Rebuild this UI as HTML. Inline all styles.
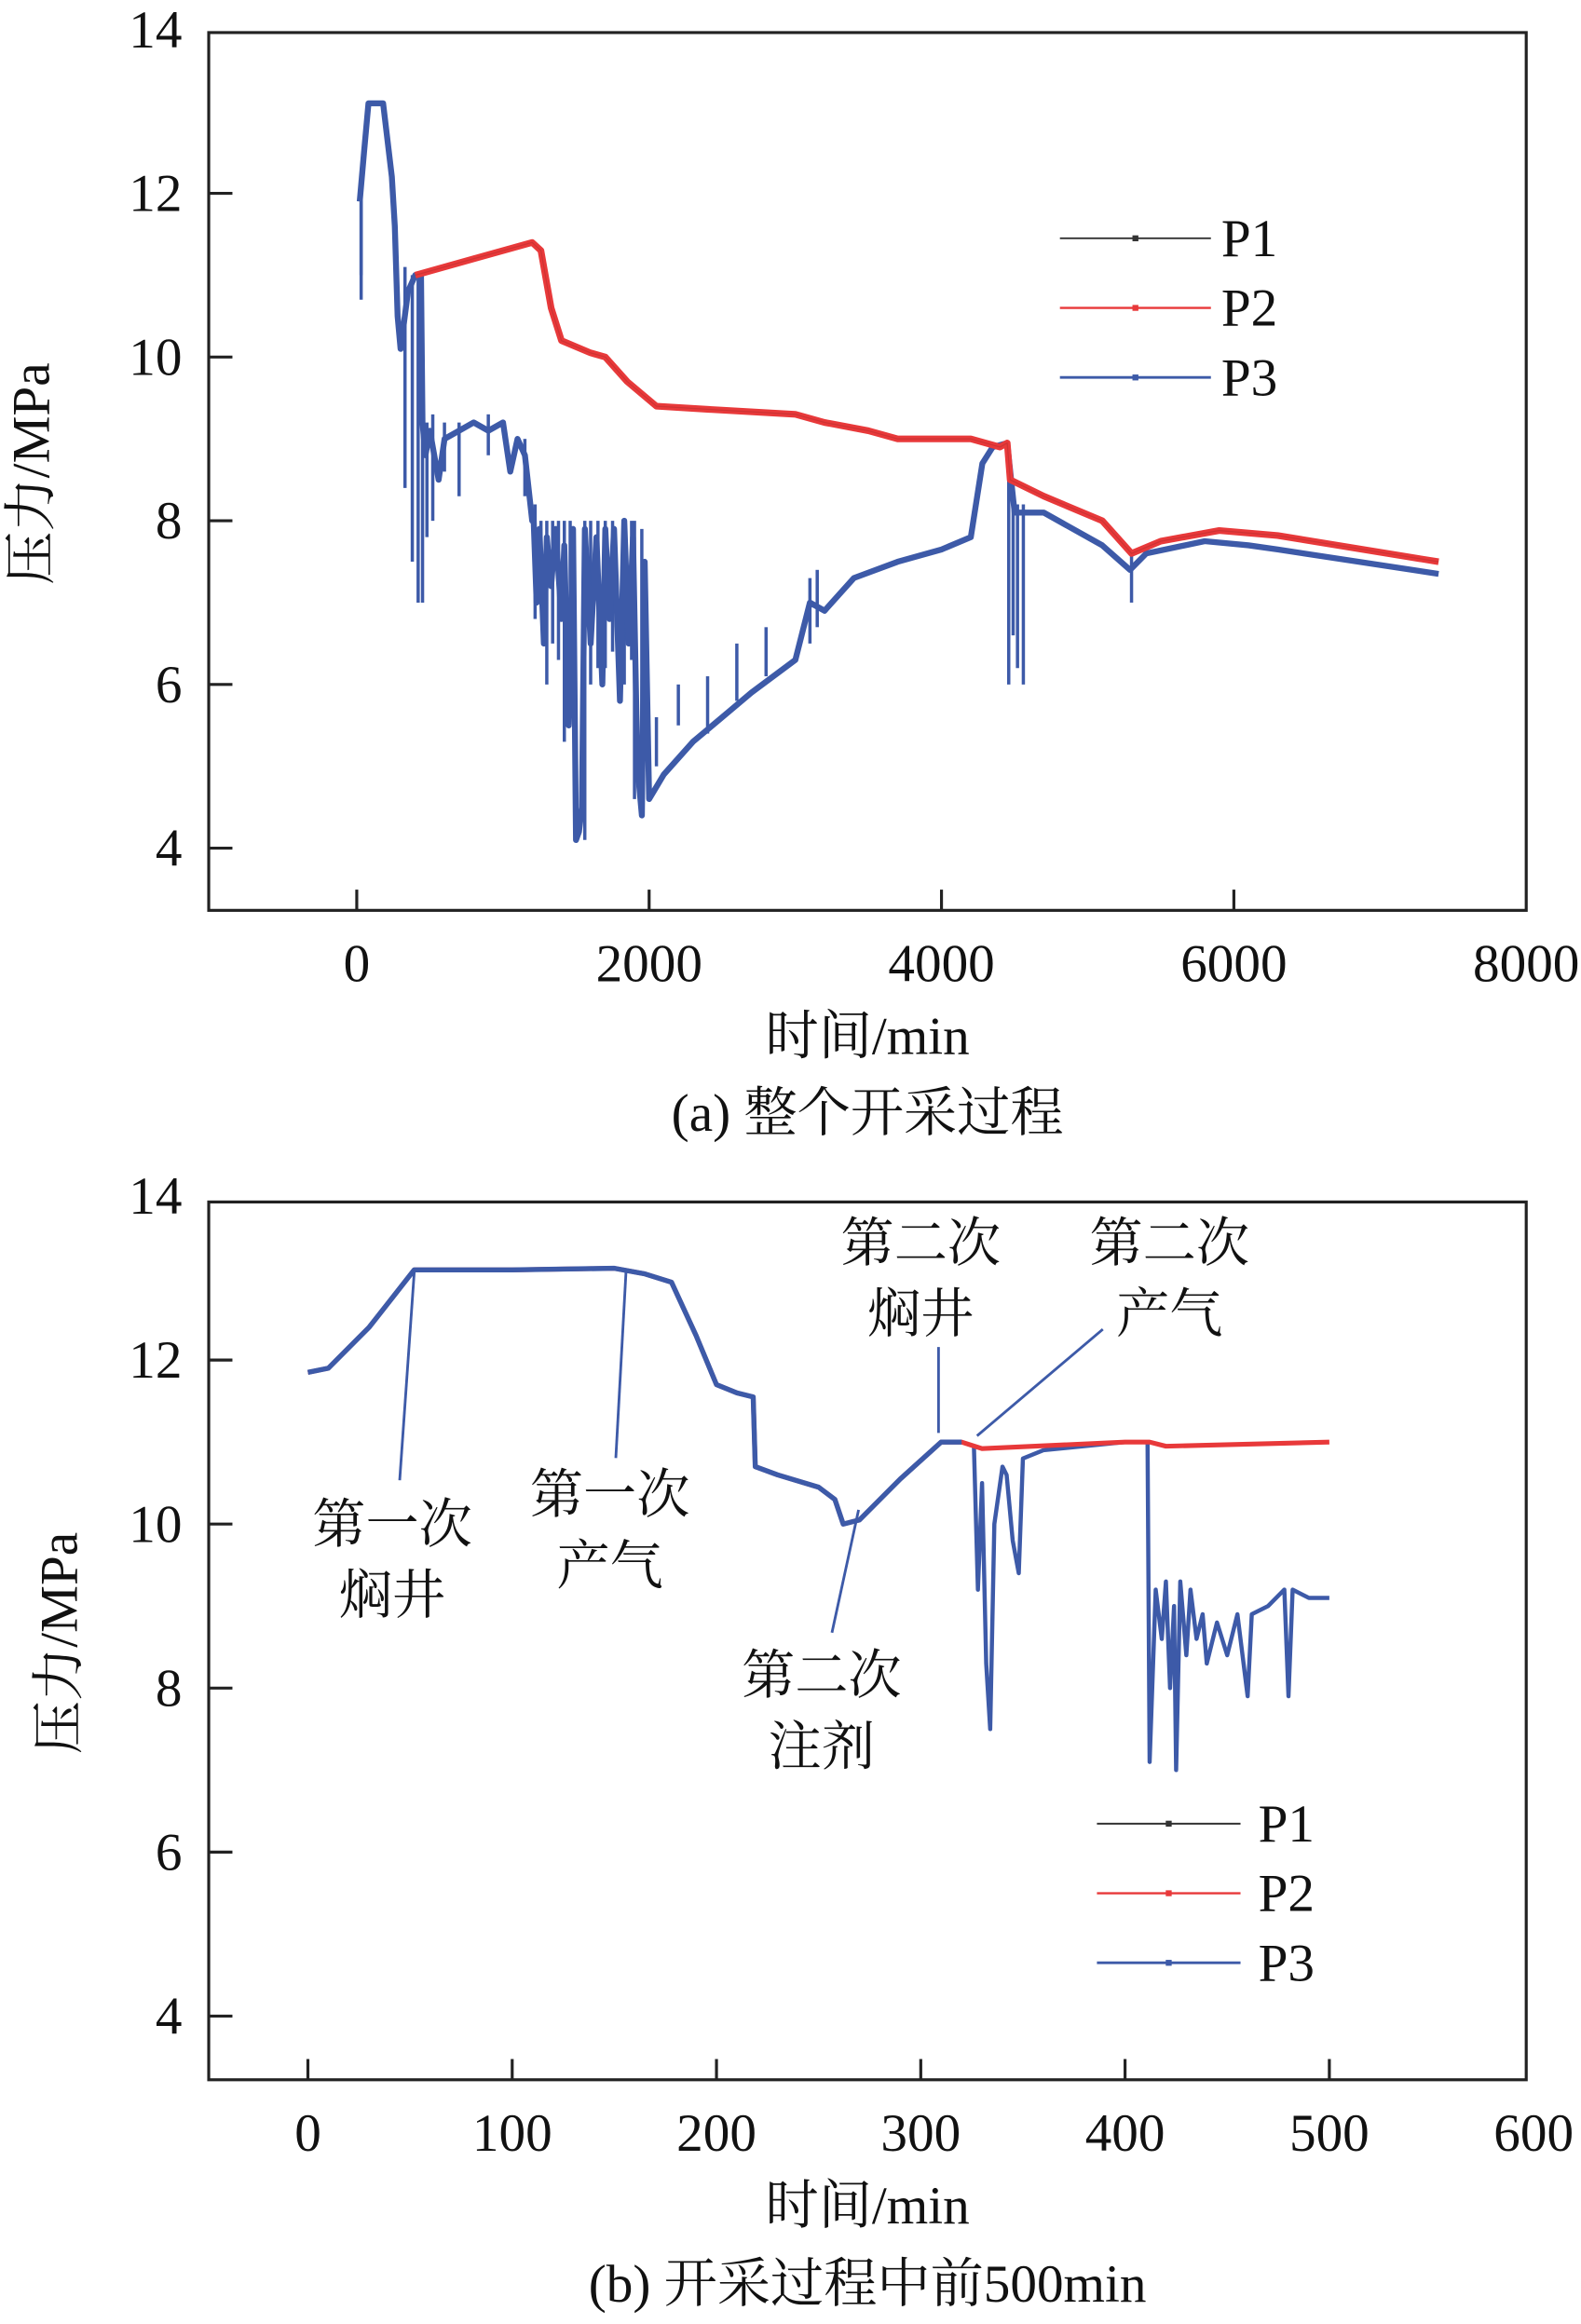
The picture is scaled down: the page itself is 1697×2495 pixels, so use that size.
<!DOCTYPE html>
<html><head><meta charset="utf-8"><style>
html,body{margin:0;padding:0;background:#fff;}
svg{display:block;}
text{font-family:"Liberation Serif","Noto Serif CJK SC","Noto Sans CJK SC",serif;fill:#111;}
</style></head><body>
<svg id="fig" width="1697" height="2495" viewBox="0 0 1068 1570" preserveAspectRatio="none" xmlns="http://www.w3.org/2000/svg">
<g id="ga"></g>
<g id="gb"></g>
</svg>
<script>
// ---------- Chart (a) data ----------
const aRedT = [400,800,1200,1260,1330,1400,1600,1700,1850,2050,2500,3000,3200,3500,3700,4200,4400,4450,4470,4700,5100,5300,5500,5900,6300,7400];
const aRedV = [11.0,11.2,11.4,11.3,10.6,10.2,10.05,10.0,9.7,9.4,9.35,9.3,9.2,9.1,9.0,9.0,8.9,8.95,8.5,8.3,8.0,7.6,7.75,7.88,7.82,7.5];
const aBlueT = [20,50,80,180,240,260,280,300,350,400,440,450,470,500,560,600,700,800,900,1000,1050,1100,1150,1200,1210,1230,1250,1280,1300,1330,1360,1400,1420,1450,1480,1500,1520,1540,1560,1600,1640,1680,1700,1730,1760,1800,1830,1860,1890,1920,1950,1970,2000,2100,2300,2500,2700,3000,3100,3200,3400,3700,4000,4200,4280,4350,4450,4500,4600,4700,5100,5290,5400,5800,6100,6300,7400];
const aBlueV = [11.9,12.5,13.1,13.1,12.2,11.6,10.5,10.1,10.8,11.0,11.0,9.2,8.8,9.1,8.5,9.0,9.1,9.2,9.1,9.2,8.6,9.0,8.8,8.0,8.0,7.0,7.9,6.5,7.8,7.2,7.9,6.8,7.7,5.5,7.9,4.1,4.2,4.5,7.9,6.5,7.8,6.0,7.9,6.8,7.9,5.8,8.0,6.5,7.8,5.0,4.4,7.5,4.6,4.9,5.3,5.6,5.9,6.3,7.0,6.9,7.3,7.5,7.65,7.8,8.7,8.9,8.95,8.1,8.1,8.1,7.7,7.4,7.6,7.75,7.7,7.65,7.35];
const aSpikeT = [30,30,330,380,420,450,480,520,600,700,900,1150,1220,1260,1300,1340,1380,1420,1460,1560,1600,1650,1700,1750,1830,1880,1900,1950,2050,2200,2400,2600,2800,3100,3150,4460,4490,4520,4560,5300];
const aSpikeLo = [10.7,11.0,8.4,7.5,7.0,7.0,7.8,8.0,8.6,8.3,8.8,8.3,6.8,7.0,6.0,6.5,6.3,5.3,5.8,4.1,6.0,6.2,6.2,6.4,6.0,6.3,4.6,4.4,5.0,5.5,5.4,5.8,6.1,6.5,6.7,6.0,6.6,6.2,6.0,7.0];
const aSpikeHi = [11.9,12.0,11.1,11.0,11.0,9.3,9.2,9.3,9.2,9.2,9.3,9.0,8.2,8.0,8.0,8.0,8.0,8.0,8.0,8.0,8.0,8.0,8.0,8.0,8.0,8.0,8.0,7.9,5.6,6.0,6.1,6.5,6.7,7.3,7.4,8.5,8.3,8.2,8.2,7.6];
const aXTicks = [0,2000,4000,6000,8000];
const aYTicks = [4,6,8,10,12,14];
// ---------- Chart (b) data ----------
const bRedT = [0,10,30,52,100,150,165,178,190,200,210,218,219,230,250,258,262,270,290,310,320,330,400,412,420,500];
const bRedV = [11.85,11.9,12.4,13.1,13.1,13.12,13.05,12.95,12.3,11.7,11.6,11.55,10.7,10.6,10.45,10.3,10.0,10.05,10.55,11.0,11.0,10.92,11.0,11.0,10.95,11.0];
const bBlueT = [0,10,30,52,100,150,165,178,190,200,210,218,219,230,250,258,262,270,290,310,320,326,328,330,332,334,336,340,342,345,348,350,360,400,411,412,415,418,420,422,424,425,427,430,432,435,438,440,445,450,455,460,462,470,478,480,482,490,500];
const bBlueV = [11.85,11.9,12.4,13.1,13.1,13.12,13.05,12.95,12.3,11.7,11.6,11.55,10.7,10.6,10.45,10.3,10.0,10.05,10.55,11.0,11.0,10.95,9.2,10.5,8.3,7.5,10.0,10.7,10.6,9.8,9.4,10.8,10.9,11.0,11.0,7.1,9.2,8.6,9.3,8.0,9.0,7.0,9.3,8.4,9.2,8.6,8.9,8.3,8.8,8.4,8.9,7.9,8.9,9.0,9.2,7.9,9.2,9.1,9.1];
const bXTicks = [0,100,200,300,400,500,600];
const bYTicks = [4,6,8,10,12,14];

const NS = "http://www.w3.org/2000/svg";
function mk(parent, tag, attrs, txt){
  const e = document.createElementNS(NS, tag);
  for (const k in attrs) e.setAttribute(k, attrs[k]);
  if (txt !== undefined) e.textContent = txt;
  parent.appendChild(e);
  return e;
}
const BLUE = "#3d5aa8", RED = "#e8393a";

function axes(g, L, T, R, B, xs, ys, xTicks, yTicks, xTitleY, capY, cap, yTitleX, yTitleY){
  const fr = mk(g, "rect", {x:L, y:T, width:R-L, height:B-T, fill:"none", stroke:"#222", "stroke-width":2});
  
  
  xTicks.forEach(v => {
    const x = xs(v);
    if (x < R - 3) {
      const t = mk(g, "line", {x1:x, x2:x, y1:B, y2:B-14, stroke:"#222", "stroke-width":2});
      
      
    }
    const l = mk(g, "text", {x:x, y:B+48, "font-size":36, "text-anchor":"middle"}, String(v));
    
    
  });
  yTicks.forEach(v => {
    const y = ys(v);
    if (y > T + 2) {
      const t = mk(g, "line", {x1:L, x2:L+16, y1:y, y2:y, stroke:"#222", "stroke-width":2});
      
      
    }
    const l = mk(g, "text", {x:123, y:y+12, "font-size":36, "text-anchor":"end"}, String(v));
    
    
  });
  const xt = mk(g, "text", {x:586, y:xTitleY, "font-size":36, "text-anchor":"middle"}, "时间/min");
  
  
  const yt = mk(g, "text", {x:0, y:0, "font-size":36, "text-anchor":"middle", transform:`translate(${yTitleX},${yTitleY}) rotate(-90)`}, "压力/MPa");
  
  
  const c = mk(g, "text", {x:586, y:capY, "font-size":36, "text-anchor":"middle"}, cap);
  
  
}
function series(g, T, V, xs, ys, color, w, name){
  const d = T.map((t,i) => (i?"L":"M") + xs(t).toFixed(1) + "," + ys(V[i]).toFixed(1)).join("");
  const p = mk(g, "path", {d:d, fill:"none", stroke:color, "stroke-width":w, "stroke-linejoin":"round"});
  
  
}
function legend(g, x1, x2, y0, lx){
  [["P1","#333",1.2],["P2",RED,1.5],["P3",BLUE,1.8]].forEach((e,i) => {
    const y = y0 + i*47;
    const ln = mk(g, "line", {x1:x1, x2:x2, y1:y, y2:y, stroke:e[1], "stroke-width":e[2]});
    
    
    const m = mk(g, "rect", {x:(x1+x2)/2-2, y:y-2, width:4, height:4, fill:e[1]});
    
    
    const t = mk(g, "text", {x:lx, y:y+12, "font-size":36}, e[0]);
    
    
  });
}

// ----- Chart a -----
const ga = document.getElementById("ga");
const xa = v => 241 + v * 197.5 / 2000;
const ya = v => 573 - (v - 4) * 55.3;
axes(ga, 141, 22, 1031, 615, xa, ya, aXTicks, aYTicks, 712, 764, "(a) 整个开采过程", 33, 320);
aSpikeT.forEach((t,i) => {
  const s = mk(ga, "line", {x1:xa(t), x2:xa(t), y1:ya(aSpikeLo[i]), y2:ya(aSpikeHi[i]), stroke:BLUE, "stroke-width":2.2});
  
  
});
series(ga, aBlueT, aBlueV, xa, ya, BLUE, 4, "p3-series-a");
series(ga, aRedT, aRedV, xa, ya, RED, 4.5, "p2-series-a");
series(ga, aRedT, aRedV, xa, ya, "rgba(60,20,20,0.15)", 0.8, "p1-series-a");
legend(ga, 716, 818, 161, 825);

// ----- Chart b -----
const gb = document.getElementById("gb");
const xb = v => 208 + v * 1.38;
const yb = v => 1362 - (v - 4) * 55.4;
axes(gb, 141, 812, 1031, 1405, xb, yb, bXTicks, bYTicks, 1502, 1555, "(b) 开采过程中前500min", 52, 1110);
series(gb, bBlueT, bBlueV, xb, yb, BLUE, 2.8, "p3-series-b");
series(gb, bRedT, bRedV, xb, yb, RED, 3.2, "p2-series-b");
series(gb, bBlueT.slice(0,21), bBlueV.slice(0,21), xb, yb, BLUE, 3.4, "p3-overlay-b");
legend(gb, 741, 838, 1232, 850);

const notes = [
  ["note-first-soak", 265, 1030, "第一次", "焖井", 270, 1000, 280, 857],
  ["note-first-produce", 412, 1010, "第一次", "产气", 416, 985, 423, 857],
  ["note-second-inject", 555, 1132, "第二次", "注剂", 562, 1103, 580, 1020],
  ["note-second-soak", 622, 840, "第二次", "焖井", 634, 910, 634, 968],
  ["note-second-produce", 790, 840, "第二次", "产气", 745, 898, 660, 970]
];
notes.forEach(n => {
  const l = mk(gb, "line", {x1:n[5], y1:n[6], x2:n[7], y2:n[8], stroke:BLUE, "stroke-width":1.8});
  
  
  const t1 = mk(gb, "text", {x:n[1], y:n[2]+12, "font-size":36, "text-anchor":"middle"}, n[3]);
  
  
  const t2 = mk(gb, "text", {x:n[1], y:n[2]+60, "font-size":36, "text-anchor":"middle"}, n[4]);
  
  
});
</script>
</body></html>
